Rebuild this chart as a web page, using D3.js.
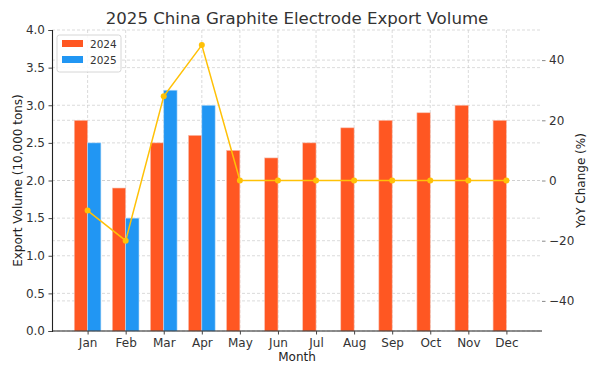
<!DOCTYPE html>
<html>
<head>
<meta charset="utf-8">
<script src="https://cdn.jsdelivr.net/npm/d3@7"></script>
<style>
  body { margin: 0; background: #fff; }
  svg { font-family: "DejaVu Sans", sans-serif; }
</style>
</head>
<body>
<div id="chart"></div>
<script>
// Chart data
const months = ["Jan","Feb","Mar","Apr","May","Jun","Jul","Aug","Sep","Oct","Nov","Dec"]
const vol2024 = [2.8, 1.9, 2.5, 2.6, 2.4, 2.3, 2.5, 2.7, 2.8, 2.9, 3.0, 2.8]
const vol2025 = [2.5, 1.5, 3.2, 3.0]
const yoy = [-10, -20, 28, 45, 0, 0, 0, 0, 0, 0, 0, 0]
const leftTicks = [0, 0.5, 1.0, 1.5, 2.0, 2.5, 3.0, 3.5, 4.0]
const rightTicks = [-40, -20, 0, 20, 40]

const WIDTH = 600
const HEIGHT = 375
const PLOT = {LEFT:52, RIGHT:542, TOP:30, BOTTOM:331}

const C2024 = "#FF5722"
const C2025 = "#2196F3"
const CYOY = "#FFC107"
const TEXT = "#333"

let svg = d3.select("#chart").append("svg")
    .attr("width", WIDTH)
    .attr("height", HEIGHT)

// x scale in month-index units, with matplotlib-like margins
const barW = 0.35
let xScale = d3.scaleLinear()
    .domain([-0.935, 11.935])
    .range([PLOT.LEFT, PLOT.RIGHT])

let yScale = d3.scaleLinear().domain([0, 4]).range([PLOT.BOTTOM, PLOT.TOP])
let yRight = d3.scaleLinear().domain([-50, 50]).range([PLOT.BOTTOM, PLOT.TOP])

// grid lines
let grid = svg.append("g")
grid.selectAll(".gx").data(months).enter().append("line")
    .attr("x1", (d, i) => xScale(i)).attr("x2", (d, i) => xScale(i))
    .attr("y1", PLOT.TOP).attr("y2", PLOT.BOTTOM)
    .attr("stroke", "#ccc").attr("stroke-width", 0.7).attr("stroke-dasharray", "3,2")
grid.selectAll(".gy").data(leftTicks).enter().append("line")
    .attr("x1", PLOT.LEFT).attr("x2", PLOT.RIGHT)
    .attr("y1", d => yScale(d)).attr("y2", d => yScale(d))
    .attr("stroke", "#ccc").attr("stroke-width", 0.7).attr("stroke-dasharray", "3,2")
grid.selectAll(".gr").data(rightTicks).enter().append("line")
    .attr("x1", PLOT.LEFT).attr("x2", PLOT.RIGHT)
    .attr("y1", d => yRight(d)).attr("y2", d => yRight(d))
    .attr("stroke", "#ccc").attr("stroke-width", 0.7).attr("stroke-dasharray", "3,2")

// bars
svg.append("g").selectAll("rect").data(vol2024).enter().append("rect")
    .attr("x", (d, i) => xScale(i - barW))
    .attr("y", d => yScale(d))
    .attr("width", xScale(barW) - xScale(0))
    .attr("height", d => PLOT.BOTTOM - yScale(d))
    .attr("fill", C2024)
    .attr("stroke", "#f8c0b0").attr("stroke-width", 0.6)

svg.append("g").selectAll("rect").data(vol2025).enter().append("rect")
    .attr("x", (d, i) => xScale(i))
    .attr("y", d => yScale(d))
    .attr("width", xScale(barW) - xScale(0))
    .attr("height", d => PLOT.BOTTOM - yScale(d))
    .attr("fill", C2025)
    .attr("stroke", "#b8dcf8").attr("stroke-width", 0.6)

// left axis
let axL = svg.append("g")
    .attr("transform", "translate(" + PLOT.LEFT + ",0)")
    .call(d3.axisLeft(yScale).tickValues(leftTicks).tickFormat(d3.format(".1f")).tickSize(3.5).tickPadding(3.5))
axL.select(".domain").attr("stroke", "#222").attr("stroke-width", 1.1)
axL.selectAll(".tick line").attr("stroke", "#444")
axL.selectAll("text").attr("font-size", 12).attr("fill", TEXT).attr("font-family", "DejaVu Sans")

// bottom axis
let axB = svg.append("g")
    .attr("transform", "translate(0," + PLOT.BOTTOM + ")")
    .call(d3.axisBottom(xScale).tickValues(d3.range(months.length)).tickFormat(i => months[i]).tickSize(3.5).tickPadding(3.5))
axB.select(".domain").attr("stroke", "#222").attr("stroke-width", 1.1).attr("d", "M" + PLOT.LEFT + ",0H" + PLOT.RIGHT)
axB.selectAll(".tick line").attr("stroke", "#444")
axB.selectAll("text").attr("font-size", 12).attr("fill", TEXT).attr("font-family", "DejaVu Sans")

// right axis (no spine)
let axR = svg.append("g")
    .attr("transform", "translate(" + PLOT.RIGHT + ",0)")
    .call(d3.axisRight(yRight).tickValues(rightTicks).tickFormat(d => d < 0 ? "\u2212" + Math.abs(d) : d).tickSize(3.5).tickPadding(3.5))
axR.select(".domain").remove()
axR.selectAll(".tick line").attr("stroke", "#888")
axR.selectAll("text").attr("font-size", 12).attr("fill", TEXT).attr("font-family", "DejaVu Sans")

// YoY line
let line = d3.line()
    .x((d, i) => xScale(i))
    .y(d => yRight(d))
svg.append("path")
    .datum(yoy)
    .attr("d", line)
    .attr("fill", "none")
    .attr("stroke", CYOY)
    .attr("stroke-width", 1.5)
svg.append("g").selectAll("circle").data(yoy).enter().append("circle")
    .attr("cx", (d, i) => xScale(i))
    .attr("cy", d => yRight(d))
    .attr("r", 3)
    .attr("fill", CYOY)

// title and labels
svg.append("text")
    .attr("x", (PLOT.LEFT + PLOT.RIGHT) / 2).attr("y", 24)
    .attr("text-anchor", "middle").attr("font-size", 16.6).attr("fill", TEXT)
    .text("2025 China Graphite Electrode Export Volume")
svg.append("text")
    .attr("x", (PLOT.LEFT + PLOT.RIGHT) / 2).attr("y", 361)
    .attr("text-anchor", "middle").attr("font-size", 12).attr("fill", "#222")
    .text("Month")
svg.append("text")
    .attr("transform", "translate(22," + ((PLOT.TOP + PLOT.BOTTOM) / 2) + ") rotate(-90)")
    .attr("text-anchor", "middle").attr("font-size", 12).attr("fill", "#222")
    .text("Export Volume (10,000 tons)")
svg.append("text")
    .attr("transform", "translate(585," + ((PLOT.TOP + PLOT.BOTTOM) / 2) + ") rotate(-90)")
    .attr("text-anchor", "middle").attr("font-size", 12).attr("fill", "#222")
    .text("YoY Change (%)")

// legend
let legendItems = [{label:"2024", color:C2024}, {label:"2025", color:C2025}]
let legend = svg.append("g").attr("transform", "translate(57,35)")
legend.append("rect")
    .attr("width", 64).attr("height", 37).attr("rx", 2.5)
    .attr("fill", "#fff").attr("fill-opacity", 0.85)
    .attr("stroke", "#ccc").attr("stroke-width", 0.8)
let li = legend.selectAll(".li").data(legendItems).enter().append("g")
    .attr("transform", (d, i) => "translate(0," + (i * 16) + ")")
li.append("rect").attr("x", 5).attr("y", 5).attr("width", 21).attr("height", 7).attr("fill", d => d.color)
li.append("text").attr("x", 33).attr("y", 13).attr("font-size", 10.5).attr("fill", TEXT).text(d => d.label)
</script>
</body>
</html>
